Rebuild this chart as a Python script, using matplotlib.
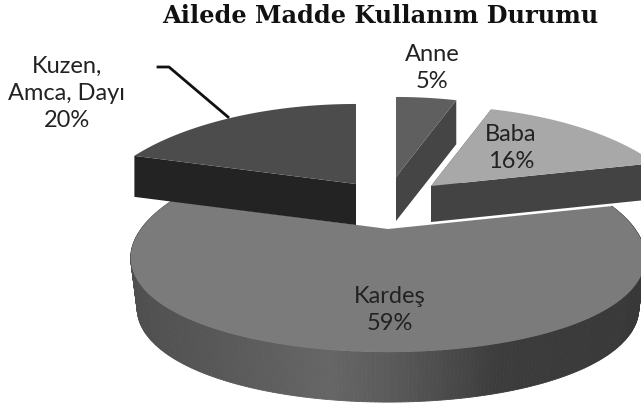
"""Exploded 3D-look pie: family substance use."""
import matplotlib

matplotlib.use("Agg")
import matplotlib.pyplot as plt
import numpy as np
from matplotlib.colors import to_rgb
from matplotlib.patches import Polygon

title = "Ailede Madde Kullanım Durumu"
names = ["Anne", "Baba", "Kardeş", "Kuzen,\nAmca, Dayı"]
shares = [5, 16, 59, 20]

# per slice look, in the order of names
apex = [(396, 178), (431, 187), (388, 230), (356, 185)]
depth = [44, 36, 50, 41]
widen = [1.0, 1.0, 1.0, 1.025]
top_col = ["#5f5f5f", "#a8a8a8", "#7b7b7b", "#4c4c4c"]
wall_col = ["#454545", "#434343", "#666666", "#232323"]
label_xy = [(432, 88), (511, 168), (390, 330), (67, 127)]

# shading of the big outer wall, left to right
shade_x = [132, 200, 330, 400, 500, 645]
shade_col = ["#4f4f4f", "#565656", "#666666", "#585858", "#3c3c3c", "#383838"]

# projection of the unit disk onto the picture
A, B, KX, KY = 247.0, 97.0, 0.28, 0.212
BOTTOM_SHRINK = 0.975  # lower rim of the pie is a little narrower


def project(ang, r=1.0):
    x, y = r * np.sin(ang), r * np.cos(ang)
    return A * x / (1 + KX * y), -B * y / (1 + KY * y)


def shade(x):
    rgb = np.array([to_rgb(c) for c in shade_col])
    return [np.interp(x, shade_x, rgb[:, k]) for k in range(3)]


def draw_slice(ax, i, a0, a1):
    px, py = apex[i]
    t = np.linspace(a0, a1, 300)
    dx, dy = project(t)
    dx = dx * widen[i]
    arc = np.column_stack([px + dx, py + dy])
    d = np.array([0, depth[i]])
    # walls first, the top face goes over them
    if i == 2:
        low = np.column_stack([px + BOTTOM_SHRINK * dx, py + dy + depth[i]])
        for k in range(len(arc) - 1):
            c = shade((arc[k, 0] + arc[k + 1, 0]) / 2)
            quad = [arc[k], arc[k + 1], low[k + 1], low[k]]
            ax.add_patch(Polygon(quad, fc=c, ec=c, lw=0.6))
    else:
        for end in (arc[0], arc[-1]):
            quad = [(px, py), end, end + d, (px, py + depth[i])]
            ax.add_patch(Polygon(quad, fc=wall_col[i], ec="none"))
    ax.add_patch(Polygon(np.vstack([[(px, py)], arc]), fc=top_col[i], ec="none"))


fig = plt.figure(figsize=(6.41, 4.06), dpi=100)
ax = fig.add_axes([0, 0, 1, 1])
ax.set_xlim(0, 641)
ax.set_ylim(406, 0)
ax.axis("off")

edges = np.cumsum([0] + shares) / sum(shares) * 2 * np.pi
for i in [2, 3, 0, 1]:
    draw_slice(ax, i, edges[i], edges[i + 1])

ax.plot([158, 169, 228], [68, 68, 118], color="#111111", lw=2)

for name, share, (x, y) in zip(names, shares, label_xy):
    ax.text(x, y, f"{name}\n{share}%", ha="center", va="baseline", fontsize=17,
            family="Lato", color="#222222", linespacing=1.35)

ax.text(380.5, 23, title, ha="center", va="baseline", fontsize=17.3,
        family="DejaVu Serif", weight="bold", color="#111111")

fig.savefig("out.png", dpi=100)
